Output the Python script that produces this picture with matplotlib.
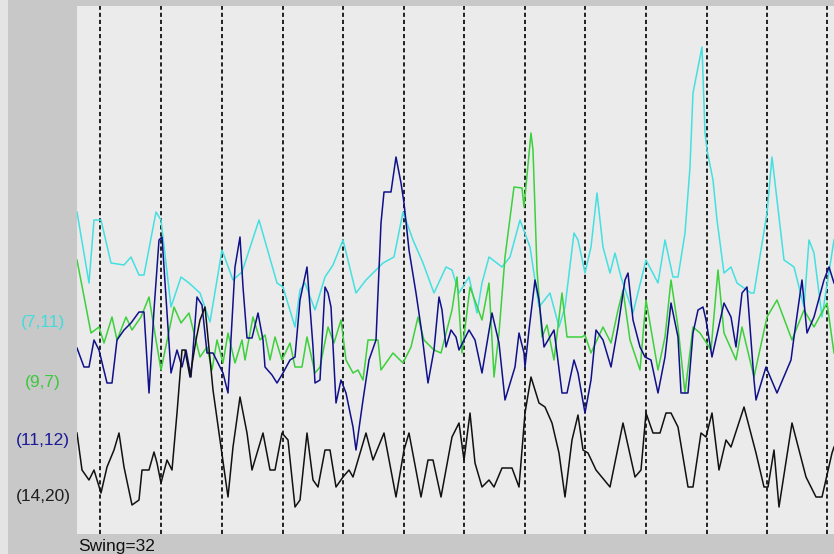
import matplotlib
matplotlib.use('Agg')
import matplotlib.pyplot as plt
from matplotlib.patches import Rectangle

plt.rcParams['font.family'] = ['Liberation Sans', 'DejaVu Sans']
plt.rcParams['lines.scale_dashes'] = False

# sample positions (t) and levels for each series
cyan_t = [0, 12, 17, 24, 34, 47, 54, 62, 67, 79, 84, 94, 104, 112, 123, 133, 145, 156, 165, 182,
          200, 206, 218, 223, 228, 238, 248, 256, 266, 279, 289, 306, 317, 326, 336, 346, 357, 369, 375, 382,
          392, 400, 405, 412, 425, 433, 443, 453, 462, 473, 482, 488, 497, 501, 508, 514, 520, 526, 533, 538,
          544, 556, 569, 581, 588, 596, 601, 608, 613, 616, 625, 628, 630, 636, 640, 647, 654, 660, 674, 677,
          690, 695, 707, 717, 727, 732, 737, 745, 757]
cyan_v = [322, 251, 314, 314, 271, 269, 277, 259, 259, 322, 314, 227, 257, 251, 241, 212, 284, 254, 262, 314,
          251, 247, 207, 244, 251, 224, 257, 269, 294, 241, 254, 271, 277, 322, 294, 271, 241, 267, 264, 241,
          257, 221, 251, 277, 267, 277, 314, 287, 227, 241, 207, 227, 301, 294, 261, 287, 341, 287, 261, 281,
          257, 221, 274, 251, 294, 257, 257, 301, 367, 441, 487, 401, 384, 354, 314, 261, 267, 251, 241, 241,
          321, 377, 274, 267, 227, 294, 281, 217, 294]

green_t = [0, 14, 22, 27, 35, 40, 49, 55, 64, 72, 79, 84, 97, 104, 112, 123, 130, 135, 140, 146,
           151, 158, 165, 168, 176, 183, 188, 193, 198, 205, 213, 218, 225, 230, 238, 243, 251, 257, 264, 269,
           276, 281, 286, 291, 301, 304, 316, 326, 334, 341, 347, 357, 364, 375, 380, 385, 393, 405, 412, 417,
           422, 428, 437, 445, 447, 454, 456, 460, 465, 470, 477, 485, 490, 505, 508, 514, 526, 534, 541, 546,
           553, 563, 569, 581, 588, 594, 601, 608, 616, 623, 634, 641, 647, 659, 665, 677, 690, 700, 715, 727,
           737, 750, 757]
green_v = [274, 201, 207, 191, 217, 194, 217, 204, 217, 237, 194, 164, 227, 211, 221, 177, 187, 164, 194, 171,
           201, 171, 194, 174, 217, 194, 199, 174, 197, 174, 191, 167, 167, 197, 161, 167, 207, 191, 214, 174,
           161, 164, 154, 194, 194, 164, 181, 171, 187, 217, 194, 184, 181, 224, 257, 181, 247, 214, 251, 157,
           201, 277, 347, 346, 327, 401, 384, 264, 197, 209, 174, 241, 197, 197, 199, 181, 207, 191, 224, 244,
           194, 164, 234, 164, 197, 254, 207, 141, 207, 201, 184, 264, 201, 174, 207, 157, 217, 234, 194, 224,
           207, 231, 181]

navy_t = [0, 7, 12, 17, 22, 30, 35, 40, 47, 54, 62, 67, 72, 77, 82, 85, 89, 94, 100, 105,
          109, 114, 120, 125, 130, 136, 146, 151, 158, 163, 166, 170, 175, 181, 186, 188, 195, 200, 206, 213,
          218, 223, 230, 236, 238, 243, 248, 251, 254, 259, 264, 269, 276, 279, 286, 292, 299, 304, 307, 314,
          319, 324, 327, 332, 339, 344, 351, 357, 362, 365, 369, 374, 379, 382, 392, 398, 405, 415, 422, 428,
          438, 442, 447, 448, 452, 458, 462, 467, 477, 480, 485, 490, 497, 501, 508, 514, 519, 526, 534, 541,
          548, 551, 556, 563, 568, 574, 581, 588, 594, 601, 604, 611, 616, 621, 626, 629, 635, 647, 654, 659,
          665, 670, 677, 679, 689, 700, 714, 717, 725, 730, 737, 747, 752, 757]
navy_v = [186, 167, 167, 194, 184, 151, 151, 194, 204, 211, 222, 222, 141, 224, 294, 297, 237, 161, 184, 167,
          184, 157, 237, 229, 181, 181, 161, 141, 267, 297, 247, 196, 196, 221, 194, 167, 159, 151, 161, 174,
          177, 234, 267, 187, 151, 154, 247, 241, 227, 131, 154, 141, 107, 84, 134, 174, 194, 311, 342, 342,
          377, 351, 331, 284, 241, 207, 151, 184, 237, 224, 187, 204, 197, 184, 204, 194, 161, 221, 191, 134,
          167, 201, 181, 167, 204, 254, 234, 187, 204, 181, 141, 141, 174, 161, 121, 154, 204, 194, 167, 207,
          254, 261, 214, 187, 177, 174, 141, 177, 231, 197, 141, 141, 201, 224, 227, 214, 177, 231, 217, 187,
          241, 247, 154, 134, 167, 141, 174, 197, 254, 201, 217, 254, 267, 251]

black_t = [0, 5, 12, 17, 24, 30, 37, 42, 47, 55, 62, 65, 72, 77, 80, 84, 90, 95, 100, 105,
           108, 113, 119, 123, 128, 136, 143, 151, 156, 163, 170, 175, 186, 193, 198, 205, 211, 218, 223, 230,
           236, 241, 248, 253, 259, 266, 272, 276, 289, 296, 307, 319, 327, 332, 344, 351, 356, 364, 375, 382,
           387, 393, 398, 405, 412, 417, 425, 435, 442, 448, 454, 462, 468, 475, 482, 488, 495, 501, 506, 511,
           519, 533, 546, 558, 564, 569, 576, 583, 589, 594, 601, 611, 616, 624, 629, 635, 642, 649, 654, 667,
           679, 687, 691, 697, 702, 715, 729, 739, 745, 755, 757]
black_v = [101, 64, 54, 64, 41, 67, 84, 101, 67, 29, 34, 64, 64, 82, 71, 51, 74, 64, 121, 184,
           184, 157, 194, 214, 227, 144, 94, 37, 87, 137, 101, 64, 101, 64, 64, 101, 94, 27, 34, 101,
           54, 47, 84, 84, 47, 57, 64, 57, 101, 74, 101, 37, 84, 101, 37, 74, 74, 37, 97, 111,
           74, 121, 71, 47, 54, 47, 66, 66, 47, 121, 157, 131, 127, 111, 81, 37, 94, 119, 84, 81,
           64, 47, 111, 57, 64, 121, 101, 101, 121, 121, 107, 47, 47, 101, 97, 121, 64, 94, 87, 127,
           81, 47, 47, 84, 27, 111, 57, 37, 37, 81, 87]

grid_t = [23, 84, 145, 206, 266, 327, 387, 448, 508, 569, 630, 690, 750]

labels = ['(7,11)', '(9,7)', '(11,12)', '(14,20)']
label_colors = ['#40dcdc', '#3cc83c', '#1a1a9a', '#202020']
label_y = [323, 383, 441, 497]  # pixel rows of the labels
swing_text = 'Swing=32'

W, H = 834, 554
fig = plt.figure(figsize=(W / 100, H / 100), dpi=100, facecolor='#c8c8c8')
fig.patches.append(Rectangle((0, 0), 8 / W, 1, transform=fig.transFigure,
                             facecolor='#e4e4e4', edgecolor='none', zorder=0))

ax = fig.add_axes([77 / W, 20 / H, (W - 77) / W, 528 / H])
ax.set_facecolor('#ebebeb')
ax.set_xlim(0, 757)
ax.set_ylim(0, 528)
ax.set_xticks([])
ax.set_yticks([])
for s in ax.spines.values():
    s.set_visible(False)

for t in grid_t:
    ax.axvline(t, color='#111111', lw=1.3, dashes=(3.0, 2.1), zorder=1)

ax.plot(cyan_t, cyan_v, color='#44e0e0', lw=1.1, zorder=2)
ax.plot(green_t, green_v, color='#3cd03c', lw=1.1, zorder=3)
ax.plot(navy_t, navy_v, color='#10108a', lw=1.1, zorder=4)
ax.plot(black_t, black_v, color='#111111', lw=1.1, zorder=5)

for lab, c, y in zip(labels, label_colors, label_y):
    fig.text(43 / W, 1 - y / H, lab, color=c, fontsize=12.5, ha='center', va='center')

fig.text(78 / W, 1 - 547 / H, swing_text, color='#111111', fontsize=12.5, ha='left', va='center')

fig.savefig('out.png', dpi=100, facecolor=fig.get_facecolor())
